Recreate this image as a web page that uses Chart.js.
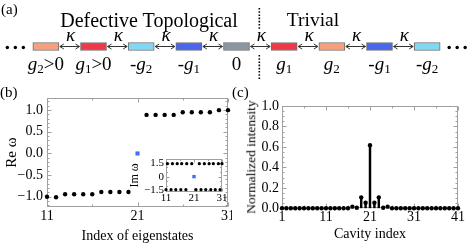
<!DOCTYPE html>
<html><head><meta charset="utf-8">
<script src="https://cdn.jsdelivr.net/npm/chart.js@4.4.0/dist/chart.umd.min.js"></script>
<style>
html,body{margin:0;padding:0;background:#fff;}
body{width:469px;height:245px;position:relative;overflow:hidden;font-family:"Liberation Serif",serif;}
.c{position:absolute;}
.c canvas{display:block;}
.lbl{position:absolute;font-family:"Liberation Serif",serif;color:#000;white-space:nowrap;line-height:1;}
</style></head><body>
<div class="c" style="left:0;top:0;"><canvas id="ca" width="469" height="85"></canvas></div>
<div class="c" style="left:0;top:85px;"><canvas id="cb" width="232" height="160"></canvas></div>
<div class="c" style="left:232px;top:85px;"><canvas id="cc" width="237" height="160"></canvas></div>
<div class="c" style="left:126px;top:152px;"><canvas id="ci" width="100" height="58"></canvas></div>
<div class="lbl" style="left:1px;top:2px;font-size:15px">(a)</div>
<div class="lbl" style="left:0px;top:85px;font-size:15px">(b)</div>
<div class="lbl" style="left:232px;top:85px;font-size:15px">(c)</div>
<div class="lbl" style="left:149px;top:10px;font-size:20px;transform:translateX(-50%)">Defective Topological</div>
<div class="lbl" style="left:313px;top:10px;font-size:19.5px;transform:translateX(-50%)">Trivial</div>
<div class="lbl" style="left:251px;top:157px;font-size:13.5px;transform:translate(-50%,-50%) rotate(-90deg)">Normalized intensity</div>
<script>
// ---------- Panel (a): cavity chain ----------
const cavityLabels = ['g2>0','g1>0','-g2','-g1','0','g1','g2','-g1','-g2'];
const cavityColors = ['#f7a07e','#ee3a48','#80d8f2','#4a66ea','#8c96a0','#ee3a48','#f7a07e','#4a66ea','#80d8f2'];
const couplingLabel = 'κ';
const boxLow = -0.105, boxHigh = 0.105;
const defectAfter = 4; // dotted boundary after the "0" cavity

// ---------- Panel (b): Re ω of eigenstates ----------
const eigIndex = [11,12,13,14,15,16,17,18,19,20,21,22,23,24,25,26,27,28,29,30,31];
const reOmega  = [-1.0,-1.01,-0.94,-0.94,-0.94,-0.94,-0.89,-0.89,-0.89,-0.89,0.0,0.89,0.89,0.89,0.89,0.95,0.95,0.95,0.95,1.0,1.0];
const zeroModeIndex = 21;
const eigXTicks = [11,21,31];
const reYTicks = [-1.0,-0.5,0.0,0.5,1.0];

// ---------- Inset: Im ω ----------
const imTopIndex = [11.5,13.3,15.0,16.6,18.4,20.2,22.9,24.7,26.4,27.9,29.7,31.0];
const imTopValue = [1.4,1.4,1.4,1.4,1.4,1.4,1.4,1.4,1.4,1.4,1.4,1.4];
const imBotIndex = [11.0,12.8,14.5,16.3,18.1,21.7,23.5,25.2,27.0,28.6,30.3];
const imBotValue = [-1.4,-1.4,-1.4,-1.4,-1.4,-1.4,-1.4,-1.4,-1.4,-1.4,-1.4];
const imZeroIndex = [21];
const imZeroValue = [0.0];
const imXTicks = [11,21,31];
const imYTicks = [-1.5,0,1.5];

// ---------- Panel (c): intensity profile ----------
const cavityIndex = [1,2,3,4,5,6,7,8,9,10,11,12,13,14,15,16,17,18,19,20,21,22,23,24,25,26,27,28,29,30,31,32,33,34,35,36,37,38,39,40,41];
const intensity   = [0,0,0,0,0,0,0,0,0,0,0,0,0,0,0,0,0.016,0.006,0.107,0.055,0.617,0.055,0.107,0.006,0.016,0,0,0,0,0,0,0,0,0,0,0,0,0,0,0,0];
const cavXTicks = [1,11,21,31,41];
const intYTicks = [0,0.2,0.4,0.6,0.8,1.0];

const SERIF = '"Liberation Serif", "Times New Roman", serif';
function fmt1(v){ if (Math.abs(v) < 1e-9) v = 0; return v.toFixed(1).replace('-', '\u2212'); }
function fmtPlain(v){ if (Math.abs(v) < 1e-9) return '0'; return String(v).replace('-', '\u2212'); }

// frame + inward ticks plugin
const framePlugin = {
  id: 'frame',
  beforeDatasetsDraw(chart, args, o) {
    const {ctx, chartArea: a} = chart;
    const xs = chart.scales.x, ys = chart.scales.y;
    ctx.save();
    ctx.strokeStyle = '#a0a0a0';
    ctx.lineWidth = 1;
    const L = Math.round(a.left) + 0.5, R = Math.round(a.right) - 0.5, T = Math.round(a.top) + 0.5, B = Math.round(a.bottom) - 0.5;
    ctx.strokeRect(L, T, R - L, B - T);
    ctx.beginPath();
    const xt = (vals, len) => vals.forEach(v => { const x = Math.round(xs.getPixelForValue(v)) + 0.5; ctx.moveTo(x, B); ctx.lineTo(x, B - len); ctx.moveTo(x, T); ctx.lineTo(x, T + len); });
    const yt = (vals, len) => vals.forEach(v => { const y = Math.round(ys.getPixelForValue(v)) + 0.5; ctx.moveTo(L, y); ctx.lineTo(L + len, y); ctx.moveTo(R, y); ctx.lineTo(R - len, y); });
    xt(o.xMajor || [], o.major || 4); xt(o.xMinor || [], o.minor || 2);
    yt(o.yMajor || [], o.major || 4); yt(o.yMinor || [], o.minor || 2);
    ctx.stroke();
    ctx.restore();
  }
};

function fixAxis(size, dim) {
  return s => { s[dim] = size; s.paddingLeft = 0; s.paddingRight = 0; s.paddingTop = 0; s.paddingBottom = 0; };
}

// ---------- draw panel (a) ----------
function drawMathLabel(ctx, s, cx, baseline, size) {
  const parts = [];
  for (let i = 0; i < s.length; i++) {
    const ch = s[i];
    if (ch === 'g') parts.push({t: 'g', f: `italic ${size}px ${SERIF}`, dy: 0});
    else if (/[0-9]/.test(ch) && i > 0 && s[i-1] === 'g') parts.push({t: ch, f: `${Math.round(size * 0.68)}px ${SERIF}`, dy: size * 0.2});
    else parts.push({t: ch, f: `${size}px ${SERIF}`, dy: 0});
  }
  let w = 0;
  parts.forEach(p => { ctx.font = p.f; p.w = ctx.measureText(p.t).width; w += p.w; });
  let x = cx - w / 2;
  parts.forEach(p => { ctx.font = p.f; ctx.fillText(p.t, x, baseline + p.dy); x += p.w; });
}

const schemePlugin = {
  id: 'scheme',
  afterDatasetsDraw(chart) {
    const ctx = chart.ctx;
    const meta = chart.getDatasetMeta(0);
    const yMid = chart.scales.y.getPixelForValue(0);
    ctx.save();
    ctx.fillStyle = '#000';
    ctx.textBaseline = 'alphabetic';
    ctx.textAlign = 'left';
    for (let i = 0; i < meta.data.length - 1; i++) {
      const a = meta.data[i], b = meta.data[i+1];
      const x1 = a.x + a.width / 2 + 1, x2 = b.x - b.width / 2 - 1;
      ctx.strokeStyle = '#333'; ctx.lineWidth = 1;
      ctx.beginPath();
      ctx.moveTo(x1, yMid); ctx.lineTo(x2, yMid);
      ctx.moveTo(x1 + 4, yMid - 2.5); ctx.lineTo(x1, yMid); ctx.lineTo(x1 + 4, yMid + 2.5);
      ctx.moveTo(x2 - 4, yMid - 2.5); ctx.lineTo(x2, yMid); ctx.lineTo(x2 - 4, yMid + 2.5);
      ctx.stroke();
      ctx.font = `italic 19px ${SERIF}`;
      const kw = ctx.measureText(couplingLabel).width;
      ctx.fillText(couplingLabel, (x1 + x2) / 2 - kw / 2 + 1, yMid - 6);
    }
    meta.data.forEach((el, i) => drawMathLabel(ctx, cavityLabels[i], el.x, yMid + 23, 19));
    const first = meta.data[0], last = meta.data[meta.data.length - 1];
    const l0 = first.x - first.width / 2, r0 = last.x + last.width / 2;
    [-25.5, -17.5, -9.5].forEach(d => { ctx.beginPath(); ctx.arc(l0 + d, yMid + 1, 1.7, 0, Math.PI * 2); ctx.fill(); });
    [9, 17, 25].forEach(d => { ctx.beginPath(); ctx.arc(r0 + d, yMid + 1, 1.7, 0, Math.PI * 2); ctx.fill(); });
    const xd = (meta.data[defectAfter].x + meta.data[defectAfter + 1].x) / 2 - 1;
    ctx.strokeStyle = '#000'; ctx.lineWidth = 1.6; ctx.setLineDash([1.6, 1.6]);
    ctx.beginPath(); ctx.moveTo(xd, 8); ctx.lineTo(xd, 30); ctx.moveTo(xd, 55); ctx.lineTo(xd, 80); ctx.stroke();
    ctx.restore();
  }
};

new Chart(document.getElementById('ca'), {
  type: 'bar',
  data: { labels: cavityLabels, datasets: [{
    data: cavityLabels.map(() => [boxLow, boxHigh]),
    backgroundColor: cavityColors, borderColor: '#6e6e6e', borderWidth: 1, borderSkipped: false, barThickness: 26
  }]},
  options: {
    responsive: false, animation: false, devicePixelRatio: 1,
    plugins: { legend: {display: false}, tooltip: {enabled: false} },
    layout: { padding: {left: 22, right: 18, top: 8, bottom: 0} },
    scales: { x: {display: false, offset: true}, y: {display: false, min: -1, max: 1} }
  },
  plugins: [schemePlugin]
});

const noGrid = {display: false, drawTicks: false};

// ---------- panel (b) ----------
const bulkPts = [], zeroPts = [];
eigIndex.forEach((n, i) => (n === zeroModeIndex ? zeroPts : bulkPts).push({x: n, y: reOmega[i]}));
new Chart(document.getElementById('cb'), {
  type: 'scatter',
  data: { datasets: [
    { data: bulkPts, backgroundColor: '#000', borderWidth: 0, pointRadius: 2.2, clip: false },
    { data: zeroPts, backgroundColor: '#3f6ff2', borderWidth: 0, pointStyle: 'rect', pointRadius: 2.9, clip: false }
  ]},
  options: {
    responsive: false, animation: false, devicePixelRatio: 1,
    plugins: { legend: {display: false}, tooltip: {enabled: false},
      frame: { xMajor: eigXTicks, xMinor: [16,26], yMajor: reYTicks, yMinor: [-1.2,-1.1,-0.9,-0.8,-0.7,-0.6,-0.4,-0.3,-0.2,-0.1,0.1,0.2,0.3,0.4,0.6,0.7,0.8,0.9,1.1,1.2], major: 4, minor: 2 } },
    layout: { padding: {left: 0, right: 3, top: 13, bottom: 0} },
    scales: {
      x: { type: 'linear', min: 11, max: 31, grid: noGrid, border: {display: false},
        afterBuildTicks: s => { s.ticks = eigXTicks.map(v => ({value: v})); },
        afterFit: fixAxis(38, 'height'),
        ticks: { color: '#000', font: {family: SERIF, size: 14}, padding: 1, maxRotation: 0, callback: v => String(v) },
        title: { display: true, text: 'Index of eigenstates', color: '#000', font: {family: SERIF, size: 14}, padding: {top: 0, bottom: 0} } },
      y: { min: -1.235, max: 1.28, grid: noGrid, border: {display: false},
        afterBuildTicks: s => { s.ticks = reYTicks.map(v => ({value: v})); },
        afterFit: fixAxis(47, 'width'),
        ticks: { color: '#000', font: {family: SERIF, size: 14}, padding: 4, callback: v => fmt1(v) },
        title: { display: true, text: 'Re ω', color: '#000', font: {family: SERIF, size: 15}, padding: {top: 3, bottom: 0} } }
    }
  },
  plugins: [framePlugin]
});

// ---------- inset ----------
new Chart(document.getElementById('ci'), {
  type: 'scatter',
  data: { datasets: [
    { data: imTopIndex.map((x, i) => ({x, y: imTopValue[i]})), backgroundColor: '#000', borderWidth: 0, pointRadius: 1.6, clip: false },
    { data: imBotIndex.map((x, i) => ({x, y: imBotValue[i]})), backgroundColor: '#000', borderWidth: 0, pointRadius: 1.6, clip: false },
    { data: imZeroIndex.map((x, i) => ({x, y: imZeroValue[i]})), backgroundColor: '#3f6ff2', borderWidth: 0, pointStyle: 'rect', pointRadius: 2.4, clip: false }
  ]},
  options: {
    responsive: false, animation: false, devicePixelRatio: 1,
    plugins: { legend: {display: false}, tooltip: {enabled: false},
      frame: { xMajor: imXTicks, xMinor: [16,26], yMajor: imYTicks, yMinor: [-1,-0.5,0.5,1], major: 3, minor: 1.5 } },
    layout: { padding: {left: 0, right: 4, top: 7, bottom: 0} },
    scales: {
      x: { type: 'linear', min: 11, max: 31, grid: noGrid, border: {display: false},
        afterBuildTicks: s => { s.ticks = imXTicks.map(v => ({value: v})); },
        afterFit: fixAxis(18.3, 'height'),
        ticks: { color: '#000', font: {family: SERIF, size: 11}, padding: 0, maxRotation: 0, callback: v => String(v) } },
      y: { min: -1.62, max: 1.9, grid: noGrid, border: {display: false},
        afterBuildTicks: s => { s.ticks = imYTicks.map(v => ({value: v})); },
        afterFit: fixAxis(40, 'width'),
        ticks: { color: '#000', font: {family: SERIF, size: 11}, padding: 2, callback: v => fmtPlain(v) },
        title: { display: true, text: 'Im ω', color: '#000', font: {family: SERIF, size: 12}, padding: {top: 2, bottom: 0} } }
    }
  },
  plugins: [framePlugin]
});

// ---------- panel (c) ----------
new Chart(document.getElementById('cc'), {
  type: 'scatter',
  data: { datasets: [
    { type: 'scatter', data: cavityIndex.map((x, i) => ({x, y: intensity[i]})), backgroundColor: '#000', borderWidth: 0, pointRadius: 2.2, clip: false, order: 0 },
    { type: 'bar', data: cavityIndex.map((x, i) => ({x, y: intensity[i]})), backgroundColor: '#000', borderWidth: 0, barThickness: 1.8, order: 1 }
  ]},
  options: {
    responsive: false, animation: false, devicePixelRatio: 1,
    plugins: { legend: {display: false}, tooltip: {enabled: false},
      frame: { xMajor: cavXTicks, xMinor: [6,16,26,36], yMajor: intYTicks, yMinor: [0.05,0.1,0.15,0.25,0.3,0.35,0.45,0.5,0.55,0.65,0.7,0.75,0.85,0.9,0.95], major: 4, minor: 2 } },
    layout: { padding: {left: 0, right: 11, top: 21, bottom: 0} },
    scales: {
      x: { type: 'linear', min: 1, max: 41, offset: false, grid: noGrid, border: {display: false},
        afterBuildTicks: s => { s.ticks = cavXTicks.map(v => ({value: v})); },
        afterFit: fixAxis(36.7, 'height'),
        ticks: { color: '#000', font: {family: SERIF, size: 14}, padding: 1, maxRotation: 0, callback: v => String(v) },
        title: { display: true, text: 'Cavity index', color: '#000', font: {family: SERIF, size: 14}, padding: {top: 0, bottom: 2} } },
      y: { min: 0, max: 1.0, grid: noGrid, border: {display: false},
        afterBuildTicks: s => { s.ticks = intYTicks.map(v => ({value: v})); },
        afterFit: fixAxis(50, 'width'),
        ticks: { color: '#000', font: {family: SERIF, size: 14}, padding: 3, callback: v => fmt1(v) } }
    }
  },
  plugins: [framePlugin]
});
</script>
</body></html>
